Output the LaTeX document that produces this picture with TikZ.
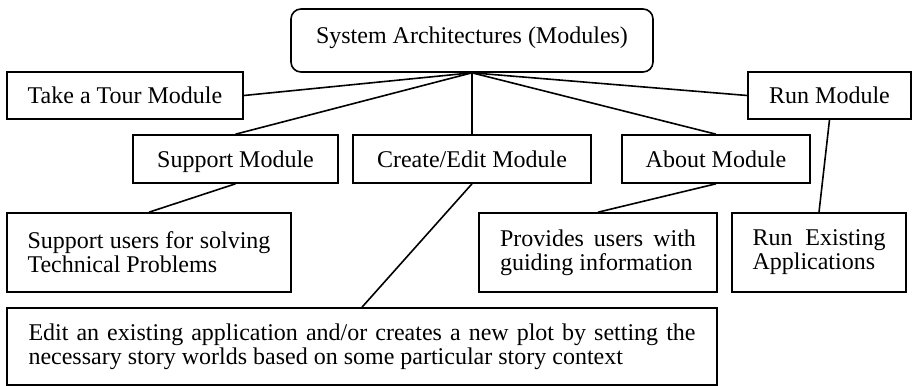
\documentclass[tikz,border=0pt]{standalone}
\usepackage{fontspec}
\setmainfont{Liberation Serif}
\tikzset{
  px/.style={x=0.5pt,y=-0.5pt},
  boxbase/.style={draw, line width=0.8pt, inner sep=0pt, font=\fontsize{12}{12}\selectfont},
  onebox/.style={boxbase, text height=8.2pt, text depth=0pt, minimum height=#1},
  onebox/.default=24pt,
  multibox/.style={boxbase, align=justify, minimum height=39.5pt},
  link/.style={line width=0.8pt}
}
\begin{document}
\begin{tikzpicture}[px]
\useasboundingbox (0,0) rectangle (912,386);
% top
\node[boxbase, rounded corners=5pt, text height=17pt, text depth=14.5pt, minimum width=181pt] (top) at (472,40.5) {System Architectures (Modules)};
% level 1
\node[onebox=23.5pt, minimum width=118pt] (tour) at (125,95.5) {Take a Tour Module};
\node[onebox=23.5pt, minimum width=81.5pt] (run) at (829.5,95.5) {Run Module};
\node[onebox, minimum width=102.5pt] (support) at (235.5,159) {Support Module};
\node[onebox, minimum width=119pt] (create) at (472,159) {Create/Edit Module};
\node[onebox, minimum width=94pt] (about) at (716,159) {About Module};
% descriptions
\node[multibox, text width=121.5pt, inner xsep=10.25pt] (supdesc) at (149,252.5) {Support users for solving Technical Problems};
\node[multibox, text width=98pt, inner xsep=10.5pt] (prodesc) at (598,252.5) {Provides users with guiding information};
\node[multibox, text width=66.5pt, inner xsep=10.25pt] (runex) at (819,252.5) {Run Existing Applications};
\node[multibox, text width=333.5pt, inner xsep=10.75pt, minimum height=38.5pt] (edit) at (362,346.5) {Edit an existing application and/or creates a new plot by setting the necessary story worlds based on some particular story context};
% connectors
\draw[link] (top.south) -- (tour.east);
\draw[link] (top.south) -- (support.north);
\draw[link] (top.south) -- (create.north);
\draw[link] (top.south) -- (about.north);
\draw[link] (top.south) -- (run.west);
\draw[link] (support.south) -- (supdesc.north);
\draw[link] (create.south) -- (edit.north);
\draw[link] (about.south) -- (prodesc.north);
\draw[link] (run.south) -- (runex.north);
\end{tikzpicture}
\end{document}
